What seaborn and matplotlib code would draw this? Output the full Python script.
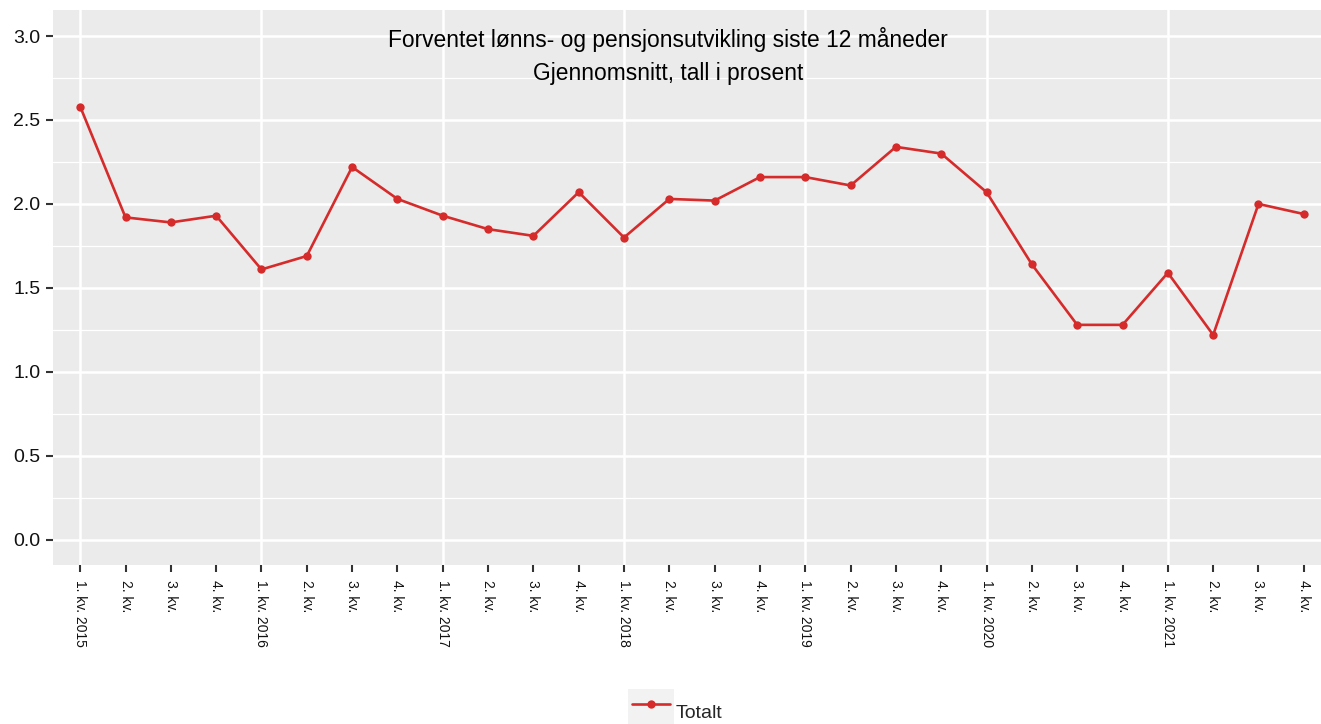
import matplotlib
matplotlib.use("Agg")
import matplotlib.pyplot as plt
from matplotlib.patches import Patch
from matplotlib.lines import Line2D
from matplotlib.legend_handler import HandlerTuple, HandlerLine2D
from matplotlib.ticker import MultipleLocator, FixedLocator
import seaborn as sns
import pandas as pd

# Quarterly series, 2015 Q1 - 2021 Q4
kvartaler = ["1. kv. 2015", "2. kv.", "3. kv.", "4. kv.",
             "1. kv. 2016", "2. kv.", "3. kv.", "4. kv.",
             "1. kv. 2017", "2. kv.", "3. kv.", "4. kv.",
             "1. kv. 2018", "2. kv.", "3. kv.", "4. kv.",
             "1. kv. 2019", "2. kv.", "3. kv.", "4. kv.",
             "1. kv. 2020", "2. kv.", "3. kv.", "4. kv.",
             "1. kv. 2021", "2. kv.", "3. kv.", "4. kv."]
totalt = [2.58, 1.92, 1.89, 1.93, 1.61, 1.69, 2.22, 2.03,
          1.93, 1.85, 1.81, 2.07, 1.80, 2.03, 2.02, 2.16,
          2.16, 2.11, 2.34, 2.30, 2.07, 1.64, 1.28, 1.28,
          1.59, 1.22, 2.00, 1.94]
serie = "Totalt"
tittel = "Forventet lønns- og pensjonsutvikling siste 12 måneder\nGjennomsnitt, tall i prosent"
y_ticks = [0.0, 0.5, 1.0, 1.5, 2.0, 2.5, 3.0]
y_labels = ["0.0", "0.5", "1.0", "1.5", "2.0", "2.5", "3.0"]

df = pd.DataFrame({"pos": range(len(kvartaler)), "verdi": totalt,
                   "serie": serie})

sns.set_theme(style="darkgrid")
plt.rcParams["font.family"] = ["Liberation Sans", "DejaVu Sans"]

W, H = 1321, 724
fig = plt.figure(figsize=(W / 100, H / 100), dpi=100)
fig.patch.set_facecolor("white")

# panel runs slightly past the right edge of the canvas
left, right, top, bottom = 53, 1331, 10, 565
ax = fig.add_axes([left / W, 1 - bottom / H, (right - left) / W, (bottom - top) / H])
ax.set_facecolor("#EBEBEB")

rod = "#D52B2B"
sns.lineplot(data=df, x="pos", y="verdi", hue="serie", palette=[rod],
             marker="o", markersize=6, markeredgewidth=0, linewidth=1.9,
             ax=ax, legend=False)

ax.set_xlim(-0.6, len(kvartaler) - 1 + 0.6)
ax.set_ylim(-0.15, 3.155)

# x: tick at every quarter, grid only at year starts
ax.xaxis.remove_overlapping_locs = False
ax.xaxis.set_major_locator(FixedLocator(list(range(len(kvartaler)))))
ax.set_xticklabels(kvartaler, rotation=270, fontsize=10, va="top", ha="center")
ax.xaxis.set_minor_locator(FixedLocator([i for i, k in enumerate(kvartaler) if k.startswith("1.")]))
ax.grid(False, axis="x", which="major")
ax.grid(True, axis="x", which="minor", color="white", linewidth=1.8)

# y: major and minor white grid
ax.yaxis.set_minor_locator(MultipleLocator(0.25))
ax.set_yticks(y_ticks)
ax.set_yticklabels(y_labels, fontsize=14)
ax.grid(True, axis="y", which="major", color="white", linewidth=1.8)
ax.grid(True, axis="y", which="minor", color="white", linewidth=0.9)
ax.set_axisbelow(True)

ax.tick_params(axis="both", which="major", length=5, width=1.5, color="#333333",
               labelcolor="#111111", pad=4, bottom=True, left=True)
ax.tick_params(axis="x", which="major", pad=6)
ax.tick_params(axis="both", which="minor", length=0, bottom=False, left=False)
for s in ax.spines.values():
    s.set_visible(False)
ax.set_xlabel("")
ax.set_ylabel("")

fig.text(668 / W, 1 - 27 / H, tittel, ha="center", va="top", fontsize=16.4,
         color="black", linespacing=1.55)


class InsetLine(HandlerLine2D):
    """Legend line drawn slightly shorter than the key box."""
    def get_xdata(self, legend, xdescent, ydescent, width, height, fontsize):
        inset = 0.2 * fontsize
        return ([-xdescent + inset, -xdescent + width - inset],
                [-xdescent + 0.5 * width])


# legend at bottom with grey key background
linje = Line2D([], [], color=rod, linewidth=1.9, marker="o", markersize=6,
               markeredgewidth=0)
bakgrunn = Patch(facecolor="#F2F2F2", edgecolor="none")
fig.legend([(bakgrunn, linje)], [serie],
           handler_map={tuple: HandlerTuple(ndivide=1, pad=0),
                        Line2D: InsetLine()},
           loc="upper left", bbox_to_anchor=(628 / W, 1 - 689 / H),
           frameon=False, fontsize=14, handlelength=2.35, handleheight=3.4,
           handletextpad=0.1, borderpad=0, borderaxespad=0)

fig.savefig("out.png", dpi=100)
